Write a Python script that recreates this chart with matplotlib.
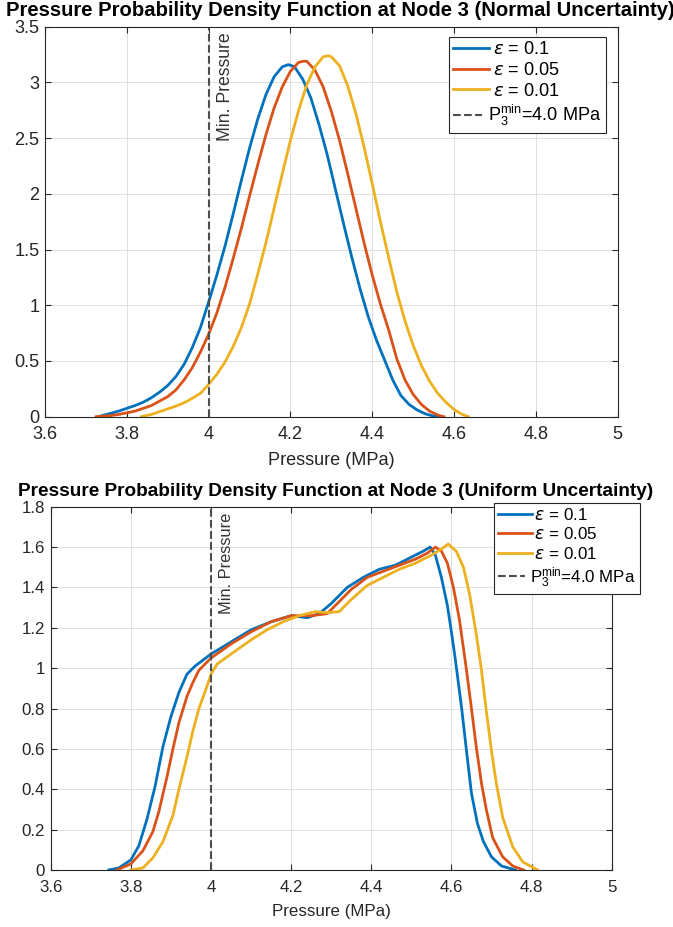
import matplotlib
matplotlib.use("Agg")
import matplotlib.pyplot as plt
from matplotlib.ticker import FormatStrFormatter
from matplotlib.legend_handler import HandlerLine2D

plt.rcParams['font.family'] = ['Liberation Sans', 'DejaVu Sans']

# MATLAB default line colours
colors = ['#0072BD', '#D95319', '#EDB120']
labels = [r' $\epsilon$ = 0.1', r' $\epsilon$ = 0.05', r' $\epsilon$ = 0.01']
p_min = 4.0

# --- Normal uncertainty (top panel) ---
normal_x_01 = [3.73, 3.74, 3.76, 3.78, 3.80, 3.82, 3.84, 3.86, 3.88, 3.90, 3.92, 3.94,
               3.96, 3.98, 4.00, 4.02, 4.04, 4.06, 4.08, 4.10, 4.12, 4.14, 4.16, 4.18,
               4.195, 4.21, 4.23, 4.25, 4.27, 4.29, 4.31, 4.33, 4.35, 4.37, 4.39, 4.41,
               4.43, 4.45, 4.47, 4.49, 4.51, 4.53, 4.55, 4.565]
normal_y_01 = [0.00, 0.01, 0.03, 0.05, 0.075, 0.10, 0.13, 0.17, 0.22, 0.28, 0.36, 0.47,
               0.62, 0.80, 1.03, 1.27, 1.53, 1.82, 2.12, 2.41, 2.67, 2.89, 3.05, 3.14,
               3.16, 3.14, 3.03, 2.86, 2.62, 2.35, 2.04, 1.73, 1.43, 1.15, 0.90, 0.69,
               0.51, 0.33, 0.19, 0.11, 0.06, 0.025, 0.005, 0.00]

normal_x_005 = [3.725, 3.76, 3.78, 3.80, 3.82, 3.84, 3.86, 3.88, 3.90, 3.92, 3.94, 3.96,
                3.98, 4.00, 4.02, 4.04, 4.06, 4.08, 4.10, 4.12, 4.14, 4.16, 4.18, 4.20,
                4.22, 4.232, 4.24, 4.26, 4.28, 4.30, 4.32, 4.34, 4.36, 4.38, 4.40, 4.42,
                4.44, 4.46, 4.48, 4.50, 4.52, 4.54, 4.56, 4.575]
normal_y_005 = [0.00, 0.01, 0.02, 0.035, 0.05, 0.075, 0.10, 0.14, 0.18, 0.24, 0.33, 0.44,
                0.58, 0.74, 0.93, 1.16, 1.42, 1.69, 1.98, 2.26, 2.53, 2.77, 2.96, 3.10,
                3.18, 3.19, 3.19, 3.11, 2.96, 2.74, 2.48, 2.18, 1.87, 1.56, 1.27, 1.01,
                0.78, 0.52, 0.33, 0.20, 0.11, 0.05, 0.015, 0.00]

normal_x_001 = [3.835, 3.86, 3.88, 3.90, 3.92, 3.94, 3.96, 3.98, 4.00, 4.02, 4.04, 4.06,
                4.08, 4.10, 4.12, 4.14, 4.16, 4.18, 4.20, 4.22, 4.24, 4.26, 4.28, 4.292,
                4.30, 4.32, 4.34, 4.36, 4.38, 4.40, 4.42, 4.44, 4.46, 4.48, 4.50, 4.52,
                4.54, 4.56, 4.58, 4.60, 4.62, 4.635]
normal_y_001 = [0.00, 0.02, 0.045, 0.07, 0.095, 0.125, 0.165, 0.21, 0.29, 0.38, 0.49, 0.63,
                0.80, 1.01, 1.28, 1.56, 1.87, 2.18, 2.48, 2.75, 2.98, 3.14, 3.23, 3.24,
                3.23, 3.15, 2.97, 2.72, 2.42, 2.09, 1.75, 1.43, 1.12, 0.86, 0.64, 0.46,
                0.32, 0.21, 0.13, 0.065, 0.02, 0.00]

# --- Uniform uncertainty (bottom panel) ---
uniform_x_01 = [3.745, 3.77, 3.80, 3.82, 3.84, 3.86, 3.88, 3.90, 3.92, 3.94, 3.96, 3.98,
                4.00, 4.05, 4.10, 4.15, 4.20, 4.24, 4.27, 4.30, 4.34, 4.38, 4.42, 4.46,
                4.50, 4.53, 4.547, 4.56, 4.575, 4.59, 4.60, 4.61, 4.625, 4.64, 4.65,
                4.665, 4.68, 4.70, 4.725, 4.76]
uniform_y_01 = [0.00, 0.01, 0.05, 0.12, 0.25, 0.41, 0.61, 0.76, 0.88, 0.97, 1.01, 1.04,
                1.07, 1.13, 1.19, 1.23, 1.26, 1.25, 1.27, 1.32, 1.40, 1.45, 1.49, 1.51,
                1.55, 1.58, 1.60, 1.56, 1.45, 1.31, 1.18, 1.04, 0.81, 0.55, 0.38,
                0.23, 0.14, 0.065, 0.02, 0.00]

uniform_x_005 = [3.765, 3.80, 3.83, 3.855, 3.87, 3.89, 3.905, 3.92, 3.94, 3.955, 3.97,
                 4.00, 4.05, 4.10, 4.15, 4.20, 4.25, 4.29, 4.31, 4.35, 4.39, 4.43, 4.47,
                 4.51, 4.54, 4.56, 4.575, 4.59, 4.605, 4.62, 4.637, 4.65, 4.662, 4.675,
                 4.687, 4.703, 4.728, 4.753, 4.78]
uniform_y_005 = [0.00, 0.03, 0.095, 0.19, 0.29, 0.46, 0.60, 0.73, 0.86, 0.93, 0.99,
                 1.05, 1.12, 1.18, 1.23, 1.26, 1.26, 1.27, 1.31, 1.39, 1.45, 1.48, 1.51,
                 1.54, 1.57, 1.60, 1.58, 1.52, 1.40, 1.24, 1.00, 0.80, 0.61, 0.43,
                 0.30, 0.16, 0.065, 0.02, 0.00]

uniform_x_001 = [3.80, 3.83, 3.855, 3.88, 3.905, 3.92, 3.94, 3.955, 3.97, 3.99, 4.00,
                 4.015, 4.05, 4.10, 4.14, 4.18, 4.22, 4.26, 4.29, 4.32, 4.35, 4.39, 4.43,
                 4.47, 4.51, 4.55, 4.575, 4.592, 4.612, 4.63, 4.645, 4.662, 4.675, 4.687,
                 4.70, 4.712, 4.728, 4.753, 4.778, 4.815]
uniform_y_001 = [0.00, 0.01, 0.06, 0.14, 0.27, 0.40, 0.56, 0.69, 0.80, 0.91, 0.97,
                 1.02, 1.07, 1.14, 1.19, 1.23, 1.26, 1.28, 1.275, 1.28, 1.34, 1.41, 1.45,
                 1.49, 1.52, 1.56, 1.59, 1.615, 1.58, 1.50, 1.37, 1.17, 0.99, 0.79,
                 0.59, 0.43, 0.26, 0.115, 0.04, 0.00]

x_ticks = [3.6, 3.8, 4.0, 4.2, 4.4, 4.6, 4.8, 5.0]


class LongLine(HandlerLine2D):
    # MATLAB draws the solid legend lines a bit longer than the dashed one
    def __init__(self, extra, **kw):
        super().__init__(**kw)
        self.extra = extra

    def create_artists(self, legend, orig_handle, xdescent, ydescent, width,
                       height, fontsize, trans):
        return super().create_artists(legend, orig_handle, xdescent, ydescent,
                                      width + self.extra, height, fontsize, trans)


def draw_panel(ax, xs, ys, title, ylim, yticks, fs, legend_anchor, title_x):
    ax.grid(True, color='#dedede', linewidth=0.7)
    ax.set_axisbelow(True)
    lines = []
    for x, y, c, lab in zip(xs, ys, colors, labels):
        ln, = ax.plot(x, y, color=c, linewidth=2, label=lab)
        lines.append(ln)
    ax.axvline(p_min, color='#4d4d4d', linestyle='--', linewidth=1.5,
               label=r'$\mathregular{P_3^{min}}$=4.0 MPa')
    ax.annotate('Min. Pressure', xy=(p_min, 1), xycoords=('data', 'axes fraction'),
                xytext=(6, -4), textcoords='offset points', rotation=90,
                ha='left', va='top', fontsize=fs - 0.4, color='#333333')
    ax.set_xlim(3.6, 5)
    ax.set_ylim(*ylim)
    ax.set_xticks(x_ticks)
    ax.set_yticks(yticks)
    ax.xaxis.set_major_formatter(FormatStrFormatter('%g'))
    ax.yaxis.set_major_formatter(FormatStrFormatter('%g'))
    ax.tick_params(direction='in', top=True, right=True, labelsize=fs,
                   length=4, width=0.8, colors='#262626')
    ax.tick_params(axis='x', pad=7)
    ax.tick_params(axis='y', pad=4)
    for s in ax.spines.values():
        s.set_color('#262626')
        s.set_linewidth(0.8)
    ax.set_xlabel('Pressure (MPa)', fontsize=fs, labelpad=6.5, color='#262626')
    ax.set_title(title, fontsize=fs + 1.5, fontweight='bold', pad=8, x=title_x)
    leg = ax.legend(loc='upper right', bbox_to_anchor=legend_anchor,
                    bbox_transform=ax.figure.transFigure, borderaxespad=0,
                    fontsize=fs, handlelength=1.6, fancybox=False,
                    framealpha=1, edgecolor='#262626', labelspacing=0.2,
                    handletextpad=0.3, borderpad=0.25,
                    handler_map={ln: LongLine(5) for ln in lines})
    leg.get_frame().set_linewidth(0.8)


fig = plt.figure(figsize=(6.73, 9.27), dpi=100)
W, H = 673.0, 927.0

ax1 = fig.add_axes([45 / W, 1 - 416.7 / H, 572.7 / W, 390 / H])
draw_panel(ax1, [normal_x_01, normal_x_005, normal_x_001],
           [normal_y_01, normal_y_005, normal_y_001],
           'Pressure Probability Density Function at Node 3 (Normal Uncertainty)',
           (0, 3.5), [0, 0.5, 1, 1.5, 2, 2.5, 3, 3.5], 13.1,
           (605.7 / W, 1 - 36.7 / H), 0.515)

ax2 = fig.add_axes([50.7 / W, 1 - 870 / H, 561 / W, 363.3 / H])
draw_panel(ax2, [uniform_x_01, uniform_x_005, uniform_x_001],
           [uniform_y_01, uniform_y_005, uniform_y_001],
           'Pressure Probability Density Function at Node 3 (Uniform Uncertainty)',
           (0, 1.8), [0, 0.2, 0.4, 0.6, 0.8, 1, 1.2, 1.4, 1.6, 1.8], 12.2,
           (640 / W, 1 - 502.7 / H), 0.507)

fig.savefig('out.png', dpi=100)
